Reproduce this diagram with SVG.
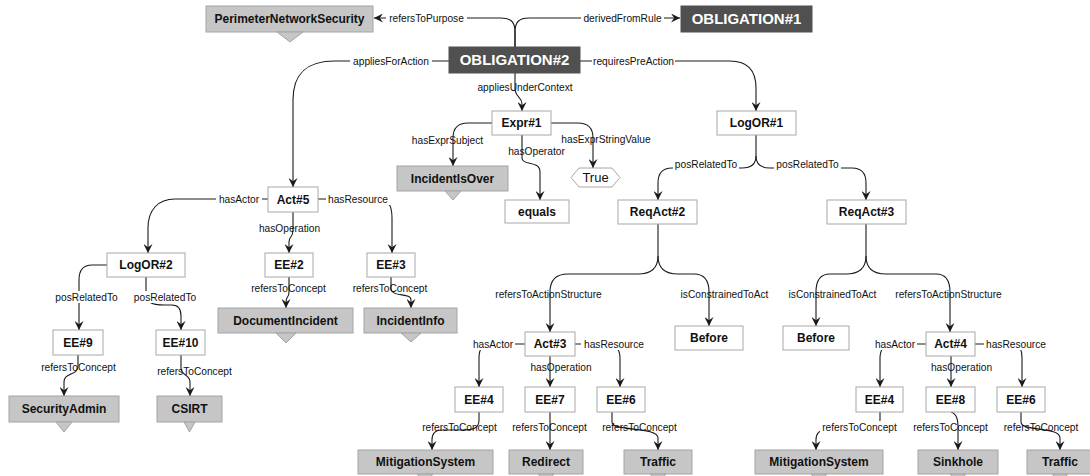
<svg xmlns="http://www.w3.org/2000/svg" width="1090" height="476" viewBox="0 0 1090 476">
  <style>
    .dark rect { fill: #505050; stroke: #505050; }
    .dark text { fill: #ffffff; font: bold 15px "Liberation Sans", Arial, sans-serif; text-anchor: middle; }
    .concept rect, .concept polygon { fill: #c6c6c6; stroke: #a4a4a4; stroke-width: 1; }
    .inst rect, .inst polygon { fill: #ffffff; stroke: #a8a8a8; stroke-width: 1; }
    .node text { font: bold 12px "Liberation Sans", Arial, sans-serif; fill: #111; text-anchor: middle; }
    .lit text { font: 13px "Liberation Sans", Arial, sans-serif; fill: #111; text-anchor: middle; }
    #edges path { fill: none; stroke: #1a1a1a; stroke-width: 1.1; marker-end: url(#arrow); }
    #edges path.plain { marker-end: none; }
    #labels text { font: 10.2px "Liberation Sans", Arial, sans-serif; fill: #111; text-anchor: middle; }
    #labels rect { fill: #ffffff; }
  </style>
  <defs>
    <marker id="arrow" markerUnits="userSpaceOnUse" viewBox="0 0 10 10" refX="10" refY="5" markerWidth="9" markerHeight="9" orient="auto">
      <path d="M0,0 L10,5 L0,10 L3.5,5 z" fill="#1a1a1a"/>
    </marker>
  </defs>
  <rect width="1090" height="476" fill="#ffffff"/>

  <!-- connectors -->
  <g id="edges">
    <path d="M515,47 V32 C515,22 511,18 501,18 H374"/>
    <path d="M515,47 V32 C515,22 519,18 529,18 H680"/>
    <path d="M449,61 H335 C305,61 293,75 293,100 V187"/>
    <path d="M580,61 H730 C748,61 756,70 756,88 V111"/>
    <path d="M515,73 V88 C515,98 522,96 522,104 V111"/>
    <path d="M492,123 H468 C458,123 453,128 453,138 V166"/>
    <path d="M522,135 V158 C522,166 540,160 540,172 V200"/>
    <path d="M551,123 H578 C588,123 593,128 593,138 V168"/>
    <path d="M756,135 V156 C756,164 752,168 742,168 H672 C662,168 658,173 658,183 V200"/>
    <path d="M756,156 C756,164 760,168 770,168 H852 C862,168 866,173 866,183 V200"/>
    <path d="M658,224 V256 C658,268 652,274 638,274 H568 C556,274 550,280 550,292 V332"/>
    <path d="M658,256 C658,268 664,274 678,274 H694 C704,274 709,280 709,292 V326"/>
    <path d="M866,224 V256 C866,268 860,274 846,274 H830 C820,274 816,280 816,292 V326"/>
    <path d="M866,256 C866,268 872,274 886,274 H936 C946,274 950,280 950,292 V332"/>
    <path d="M268,199 H175 C158,199 148,210 148,228 V253"/>
    <path d="M318,199 H380 C388,199 392,206 392,218 V253"/>
    <path d="M293,212 V230 C293,238 289,236 289,242 V253"/>
    <path d="M107,265 H92 C83,265 79,270 79,280 V330"/>
    <path d="M146,277 V292 C146,302 150,305 165,305 H172 C178,305 181,309 181,316 V330"/>
    <path d="M289,277 V292 C289,298 286,296 286,302 V308"/>
    <path d="M391,277 V288 C391,298 411,292 411,300 V308"/>
    <path d="M78,355 V366 C78,376 64,372 64,382 V396"/>
    <path d="M181,355 V368 C181,376 190,374 190,382 V396"/>
    <path d="M525,344 H490 C482,344 479,350 479,358 V387"/>
    <path d="M550,356 V387"/>
    <path d="M575,344 H608 C616,344 620,350 620,358 V387"/>
    <path d="M926,344 H892 C884,344 880,350 880,358 V387"/>
    <path d="M951,356 V387"/>
    <path d="M975,344 H1012 C1020,344 1022,350 1022,358 V387"/>
    <path d="M479,412 V420 C479,428 474,430 462,430 H442 C435,430 432,434 432,440 V450"/>
    <path d="M550,412 V450"/>
    <path d="M612,412 V422 C612,432 658,426 658,438 V450"/>
    <path d="M880,412 V420 C880,428 874,430 862,430 H826 C819,430 816,434 816,440 V450"/>
    <path d="M951,412 C957,414 958,420 958,428 V450"/>
    <path d="M1021,412 V422 C1021,432 1060,426 1060,438 V450"/>
  </g>

  <!-- connector labels -->
  <g id="labels">
    <rect x="386" y="12" width="81" height="12"/><text x="426.5" y="21.5">refersToPurpose</text>
    <rect x="581" y="12" width="83" height="12"/><text x="622.5" y="21.5">derivedFromRule</text>
    <rect x="350" y="55" width="82" height="12"/><text x="391" y="64.5">appliesForAction</text>
    <rect x="592" y="55" width="83" height="12"/><text x="633.5" y="64.5">requiresPreAction</text>
    <text x="525" y="90.5">appliesUnderContext</text>
    <text x="447.5" y="143.5">hasExprSubject</text>
    <text x="536.5" y="154.5">hasOperator</text>
    <text x="606" y="142.5">hasExprStringValue</text>
    <rect x="673" y="158" width="66" height="12"/><text x="706" y="167.5">posRelatedTo</text>
    <rect x="774" y="158" width="67" height="12"/><text x="807.5" y="167.5">posRelatedTo</text>
    <rect x="216" y="193" width="46" height="12"/><text x="239" y="202.5">hasActor</text>
    <rect x="326" y="193" width="64" height="12"/><text x="358" y="202.5">hasResource</text>
    <text x="289.5" y="231.5">hasOperation</text>
    <rect x="53" y="291" width="67" height="12"/><text x="86.5" y="300.5">posRelatedTo</text>
    <rect x="131" y="291" width="68" height="12"/><text x="165" y="300.5">posRelatedTo</text>
    <text x="288.5" y="291.5">refersToConcept</text>
    <text x="390" y="291.5">refersToConcept</text>
    <text x="78.5" y="370.5">refersToConcept</text>
    <text x="194.5" y="374.5">refersToConcept</text>
    <text x="548.5" y="297.5">refersToActionStructure</text>
    <text x="724.5" y="297.5">isConstrainedToAct</text>
    <text x="832.5" y="297.5">isConstrainedToAct</text>
    <text x="948.5" y="297.5">refersToActionStructure</text>
    <rect x="471" y="338" width="44" height="12"/><text x="493" y="347.5">hasActor</text>
    <text x="561" y="370.5">hasOperation</text>
    <rect x="581" y="338" width="66" height="12"/><text x="614" y="347.5">hasResource</text>
    <rect x="873" y="338" width="44" height="12"/><text x="895" y="347.5">hasActor</text>
    <text x="961.5" y="370.5">hasOperation</text>
    <rect x="984" y="338" width="64" height="12"/><text x="1016" y="347.5">hasResource</text>
    <text x="459.5" y="430.5">refersToConcept</text>
    <text x="549.5" y="430.5">refersToConcept</text>
    <text x="639.5" y="430.5">refersToConcept</text>
    <rect x="820" y="421" width="80" height="12"/><text x="859.5" y="430.5">refersToConcept</text>
    <text x="950.5" y="430.5">refersToConcept</text>
    <text x="1041" y="430.5">refersToConcept</text>
  </g>

  <!-- obligations -->
  <g id="obligation1" class="dark"><rect x="681" y="6" width="131" height="26"/><text x="746.5" y="24.4">OBLIGATION#1</text></g>
  <g id="obligation2" class="dark"><rect x="449" y="47" width="131" height="26"/><text x="514.5" y="65.4">OBLIGATION#2</text></g>

  <!-- concepts -->
  <g id="perimeterNetworkSecurity" class="node concept"><rect x="206" y="6" width="167" height="26"/><polygon points="277,32 303,32 290,42"/><text x="289.5" y="23.3">PerimeterNetworkSecurity</text></g>
  <g id="incidentIsOver" class="node concept"><rect x="397" y="166" width="111" height="25"/><polygon points="445,191 461,191 453,200"/><text x="452.5" y="182.8">IncidentIsOver</text></g>
  <g id="documentIncident" class="node concept"><rect x="218" y="308" width="135" height="25"/><polygon points="276,333 296,333 286,343"/><text x="285.5" y="324.8">DocumentIncident</text></g>
  <g id="incidentInfo" class="node concept"><rect x="364" y="308" width="93" height="25"/><polygon points="401,333 421,333 411,342"/><text x="410.5" y="324.8">IncidentInfo</text></g>
  <g id="securityAdmin" class="node concept"><rect x="9" y="396" width="110" height="26"/><polygon points="56,422 72,422 64,432"/><text x="64" y="413.3">SecurityAdmin</text></g>
  <g id="csirt" class="node concept"><rect x="157" y="396" width="65" height="26"/><polygon points="184,422 195,422 189.5,432"/><text x="189.5" y="413.3">CSIRT</text></g>
  <g id="mitigationSystem1" class="node concept"><rect x="358" y="450" width="135" height="24"/><polygon points="417,474 433,474 425,483"/><text x="425.5" y="466.3">MitigationSystem</text></g>
  <g id="redirect" class="node concept"><rect x="509" y="450" width="74" height="24"/><polygon points="538,474 554,474 546,483"/><text x="546" y="466.3">Redirect</text></g>
  <g id="traffic1" class="node concept"><rect x="624" y="450" width="68" height="24"/><polygon points="650,474 666,474 658,483"/><text x="658" y="466.3">Traffic</text></g>
  <g id="mitigationSystem2" class="node concept"><rect x="755" y="450" width="128" height="24"/><polygon points="811,474 827,474 819,483"/><text x="819" y="466.3">MitigationSystem</text></g>
  <g id="sinkhole" class="node concept"><rect x="918" y="450" width="80" height="24"/><polygon points="950,474 966,474 958,483"/><text x="958" y="466.3">Sinkhole</text></g>
  <g id="traffic2" class="node concept"><rect x="1027" y="450" width="66" height="24"/><polygon points="1052,474 1068,474 1060,483"/><text x="1060" y="466.3">Traffic</text></g>

  <!-- instances -->
  <g id="expr1" class="node inst"><rect x="492" y="111" width="59" height="24"/><text x="521.5" y="127.3">Expr#1</text></g>
  <g id="equals" class="node inst"><rect x="505" y="200" width="64" height="23"/><text x="537" y="215.8">equals</text></g>
  <g id="true" class="lit inst"><polygon points="571,177.5 579,168 612,168 620,177.5 612,187 579,187"/><text x="595.5" y="182">True</text></g>
  <g id="logOr1" class="node inst"><rect x="717" y="111" width="79" height="24"/><text x="756.5" y="127.3">LogOR#1</text></g>
  <g id="reqAct2" class="node inst"><rect x="618" y="200" width="79" height="24"/><text x="657.5" y="216.3">ReqAct#2</text></g>
  <g id="reqAct3" class="node inst"><rect x="827" y="200" width="79" height="24"/><text x="866.5" y="216.3">ReqAct#3</text></g>
  <g id="act5" class="node inst"><rect x="268" y="187" width="50" height="25"/><text x="293" y="203.8">Act#5</text></g>
  <g id="logOr2" class="node inst"><rect x="107" y="253" width="78" height="24"/><text x="146" y="269.3">LogOR#2</text></g>
  <g id="ee2" class="node inst"><rect x="265" y="253" width="48" height="24"/><text x="289" y="269.3">EE#2</text></g>
  <g id="ee3" class="node inst"><rect x="367" y="253" width="48" height="24"/><text x="391" y="269.3">EE#3</text></g>
  <g id="ee9" class="node inst"><rect x="53" y="330" width="50" height="25"/><text x="78" y="346.8">EE#9</text></g>
  <g id="ee10" class="node inst"><rect x="156" y="330" width="49" height="25"/><text x="180.5" y="346.8">EE#10</text></g>
  <g id="before1" class="node inst"><rect x="675" y="326" width="68" height="24"/><text x="709" y="342.3">Before</text></g>
  <g id="before2" class="node inst"><rect x="783" y="326" width="66" height="24"/><text x="816" y="342.3">Before</text></g>
  <g id="act3" class="node inst"><rect x="525" y="332" width="50" height="24"/><text x="550" y="348.3">Act#3</text></g>
  <g id="act4" class="node inst"><rect x="926" y="332" width="49" height="24"/><text x="950.5" y="348.3">Act#4</text></g>
  <g id="ee4a" class="node inst"><rect x="455" y="387" width="48" height="25"/><text x="479" y="403.8">EE#4</text></g>
  <g id="ee7" class="node inst"><rect x="525" y="387" width="50" height="25"/><text x="550" y="403.8">EE#7</text></g>
  <g id="ee6a" class="node inst"><rect x="597" y="387" width="48" height="25"/><text x="621" y="403.8">EE#6</text></g>
  <g id="ee4b" class="node inst"><rect x="856" y="387" width="47" height="25"/><text x="879.5" y="403.8">EE#4</text></g>
  <g id="ee8" class="node inst"><rect x="926" y="387" width="49" height="25"/><text x="950.5" y="403.8">EE#8</text></g>
  <g id="ee6b" class="node inst"><rect x="997" y="387" width="48" height="25"/><text x="1021" y="403.8">EE#6</text></g>
</svg>
